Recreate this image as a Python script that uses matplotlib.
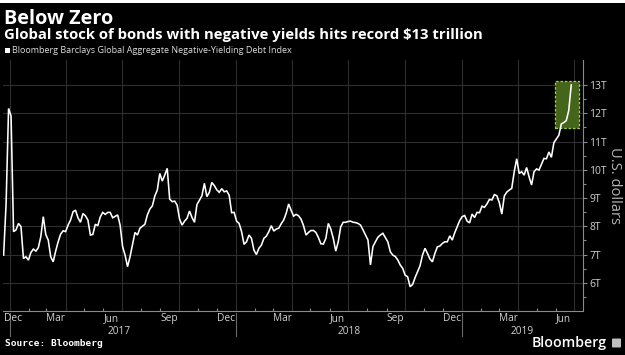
import matplotlib
matplotlib.use("Agg")
import matplotlib.pyplot as plt
import matplotlib.dates as mdates
import matplotlib.patches as mpatches
import matplotlib.transforms as mtransforms
import pandas as pd

# ---------------- data ----------------
title = "Below Zero"
subtitle = "Global stock of bonds with negative yields hits record $13 trillion"
legend_label = "Bloomberg Barclays Global Aggregate Negative-Yielding Debt Index"
source_text = "Source: Bloomberg"
brand_text = "Bloomberg"
y_axis_label = "U.S. dollars"

start_date = "2016-12-22"
step = "4D"
debt_trillions = [
    6.98, 8.80, 12.17, 11.90, 7.81, 7.87, 8.10, 7.99, 6.86, 6.92,
    6.80, 7.07, 7.19, 7.12, 7.24, 7.63, 8.34, 7.71, 7.51, 6.92,
    6.74, 7.12, 7.45, 7.72, 7.84, 7.81, 8.04, 8.22, 8.51, 8.57,
    8.30, 8.14, 8.45, 8.37, 8.22, 7.69, 7.71, 8.07, 8.02, 8.33,
    8.49, 8.42, 8.49, 8.49, 8.30, 8.35, 8.40, 8.04, 7.28, 6.98,
    6.57, 6.92, 7.36, 7.78, 7.69, 7.93, 8.00, 8.07, 8.40, 8.61,
    8.72, 9.07, 9.28, 9.87, 9.60, 9.81, 10.05, 8.96, 8.87, 8.89,
    8.75, 8.25, 8.04, 8.18, 8.28, 8.54, 8.31, 8.14, 8.77, 8.92,
    9.08, 9.52, 9.05, 9.20, 9.55, 9.44, 9.29, 9.20, 9.33, 9.22,
    9.25, 9.10, 8.48, 8.49, 8.18, 8.10, 7.81, 7.36, 7.45, 7.69,
    7.57, 7.15, 7.00, 7.22, 7.33, 7.57, 7.65, 7.81, 8.02, 7.83,
    7.90, 7.93, 8.09, 8.22, 8.46, 8.79, 8.56, 8.36, 8.42, 8.37,
    8.25, 8.02, 7.69, 7.78, 7.85, 7.85, 7.78, 7.60, 7.38, 7.37,
    7.57, 8.10, 7.90, 7.57, 7.12, 7.45, 7.98, 8.14, 8.14, 8.17,
    8.18, 8.14, 8.13, 8.10, 8.04, 7.87, 7.69, 7.51, 6.63, 7.28,
    7.45, 7.61, 7.69, 7.75, 7.60, 7.45, 7.10, 6.98, 6.93, 6.81,
    6.63, 6.51, 6.27, 6.21, 5.86, 5.94, 6.18, 6.39, 6.60, 6.98,
    7.22, 7.04, 6.84, 6.74, 7.04, 7.27, 7.30, 7.39, 7.45, 7.45,
    7.66, 7.51, 7.77, 7.98, 8.20, 8.34, 8.38, 8.18, 8.12, 8.43,
    8.31, 8.49, 8.48, 8.71, 8.67, 8.79, 8.95, 8.93, 9.12, 9.08,
    8.83, 8.43, 9.07, 9.21, 9.28, 9.34, 9.93, 10.39, 9.87, 9.93,
    9.81, 10.08, 9.75, 9.46, 9.93, 10.03, 9.99, 10.20, 10.40, 10.39,
    10.63, 10.44, 10.96, 11.09, 11.22, 11.62, 11.67, 11.74, 12.10, 13.00,
]
dates = pd.date_range(start_date, periods=len(debt_trillions), freq=step)

x_range = ["2016-12-21", "2019-07-15"]
y_range = [5.0, 13.885]
ytick_values = [6, 7, 8, 9, 10, 11, 12, 13]
ytick_labels = ["6T", "7T", "8T", "9T", "10T", "11T", "12T", "13T"]
grid_dates = pd.date_range("2017-01-01", "2019-07-01", freq="QS")
month_label_dates = ["2016-12-01", "2017-03-01", "2017-06-01", "2017-09-01",
                     "2017-12-01", "2018-03-01", "2018-06-01", "2018-09-01",
                     "2018-12-01", "2019-03-01", "2019-06-01"]
month_label_names = ["Dec", "Mar", "Jun", "Sep", "Dec", "Mar", "Jun", "Sep",
                     "Dec", "Mar", "Jun"]
year_names = ["2017", "2018", "2019"]
year_starts = ["2017-01-01", "2018-01-01", "2019-01-01"]
highlight_dates = ["2019-05-31", "2019-07-09"]
highlight_values = [11.48, 13.14]

# ---------------- style ----------------
BG = "black"
GRID = "#2e2e2e"
AXIS = "#8a8a8a"
TXT = "#d2d2d2"
W, H = 625, 355

fig = plt.figure(figsize=(W / 100, H / 100), dpi=100, facecolor=BG)
ax = fig.add_axes([3 / W, (H - 311) / H, (583 - 3) / W, (311 - 60) / H])
ax.set_facecolor(BG)

xmin, xmax = pd.Timestamp(x_range[0]), pd.Timestamp(x_range[1])
ax.set_xlim(xmin, xmax)
ax.set_ylim(*y_range)

# highlight box
hx0 = mdates.date2num(pd.Timestamp(highlight_dates[0]))
hx1 = mdates.date2num(pd.Timestamp(highlight_dates[1]))
box = mpatches.Rectangle((hx0, highlight_values[0]), hx1 - hx0,
                         highlight_values[1] - highlight_values[0],
                         facecolor="#44651a", edgecolor="#a4d43a",
                         linestyle=(0, (2, 1.5)), linewidth=0.9, zorder=2)
ax.add_patch(box)

ax.plot(dates, debt_trillions, color="white", linewidth=1.15, zorder=3,
        solid_joinstyle="miter")

# grid
ax.set_xticks(grid_dates)
ax.xaxis.set_minor_locator(mdates.MonthLocator())
ax.tick_params(axis="x", which="major", length=0, labelbottom=False)
ax.tick_params(axis="x", which="minor", length=2.5, direction="in",
               color=AXIS, width=0.8)
ax.grid(True, which="major", color=GRID, linewidth=0.8)

ax.yaxis.tick_right()
ax.set_yticks(ytick_values)
ax.set_yticklabels(ytick_labels)
ax.set_yticks([v + 0.5 for v in ytick_values[:-1]] + [5.5], minor=True)
ax.tick_params(axis="y", which="major", length=3, width=0.8, color=AXIS,
               labelcolor=TXT, labelsize=7.5, pad=1.5)
ax.tick_params(axis="y", which="minor", length=2, width=0.8, color=AXIS)
for lab in ax.get_yticklabels():
    lab.set_fontfamily("Open Sans")

for s in ["top", "left"]:
    ax.spines[s].set_visible(False)
ax.spines["right"].set_color(AXIS)
ax.spines["bottom"].set_color(AXIS)
ax.spines["right"].set_linewidth(0.8)
ax.spines["bottom"].set_linewidth(0.8)
ax.set_axisbelow(True)

ax.yaxis.set_label_position("right")
ax.set_ylabel(y_axis_label, rotation=270, color="#b5b5b5", fontsize=10.5,
              labelpad=11, family="Open Sans")

# month / year labels below axis
tr = mtransforms.blended_transform_factory(ax.transData, fig.transFigure)
for d, name in zip(month_label_dates, month_label_names):
    xd = max(pd.Timestamp(d), xmin + pd.Timedelta(days=1))
    fig.text(mdates.date2num(xd), 1 - 318.5 / H, name, transform=tr,
             ha="left", va="center", color=TXT, fontsize=7.3, family="Open Sans")
bounds = [xmin] + [pd.Timestamp(y) for y in year_starts[1:]] + [xmax]
for i, name in enumerate(year_names):
    mid = bounds[i] + (bounds[i + 1] - bounds[i]) / 2
    fig.text(mdates.date2num(mid), 1 - 331.5 / H, name, transform=tr,
             ha="center", va="center", color=TXT, fontsize=7.3, family="Open Sans")
for y in year_starts:
    xd = mdates.date2num(pd.Timestamp(y))
    fig.add_artist(plt.Line2D([xd, xd], [1 - 313 / H, 1 - 336 / H],
                              transform=tr, color="#6a6a6a", linewidth=0.8))

# titles
fig.text(4 / W, 1 - 24 / H, title, color="white", fontsize=14.3,
         fontweight="bold", family="Open Sans", va="baseline", ha="left")
fig.text(4 / W, 1 - 38.5 / H, subtitle, color="white", fontsize=10.7,
         fontweight="bold", family="Open Sans", va="baseline", ha="left")
fig.patches.append(mpatches.Rectangle((5 / W, 1 - 53 / H), 5 / W, 5.5 / H,
                                      transform=fig.transFigure,
                                      facecolor="white", edgecolor="none"))
fig.text(12 / W, 1 - 50.5 / H, legend_label, color="#dcdcdc", fontsize=6.45,
         family="Open Sans", va="center", ha="left")

# footer
fig.text(5 / W, 1 - 344 / H, source_text, color="white", fontsize=6.8,
         fontweight="bold", family="DejaVu Sans Mono", va="center", ha="left")
fig.text(607 / W, 1 - 343 / H, brand_text, color="white", fontsize=10.2,
         fontweight="semibold", family="Open Sans", va="center", ha="right")
fig.patches.append(mpatches.FancyBboxPatch((612 / W, 1 - 347.5 / H), 9 / W, 9 / H,
                                           boxstyle="round,pad=0,rounding_size=0.002",
                                           transform=fig.transFigure,
                                           facecolor="#bfbfbf", edgecolor="none"))

# thin white strip at the very top of the image
fig.patches.append(mpatches.Rectangle((0, 1 - 3 / H), 1, 3 / H,
                                      transform=fig.transFigure,
                                      facecolor="white", edgecolor="none"))

fig.savefig("out.png", dpi=100, facecolor=BG)
